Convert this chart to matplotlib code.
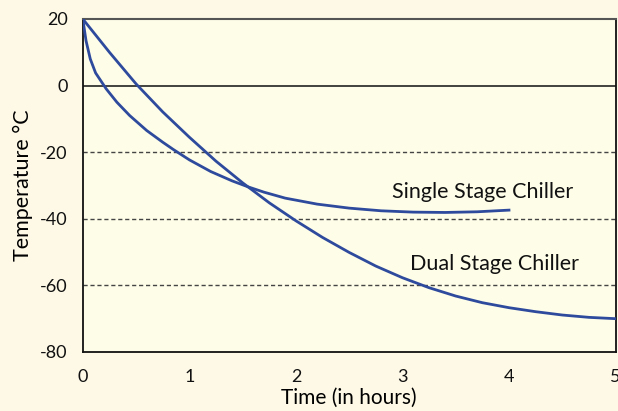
import matplotlib
matplotlib.use("Agg")
import matplotlib.pyplot as plt

plt.rcParams['font.family'] = ['Lato', 'DejaVu Sans']
plt.rcParams['axes.unicode_minus'] = False

# hours / degrees C
single_t = [0, 0.03, 0.07, 0.12, 0.22, 0.32, 0.44, 0.6, 0.75, 0.85, 1.0, 1.2, 1.4,
            1.55, 1.7, 1.9, 2.2, 2.5, 2.8, 3.1, 3.4, 3.7, 4.0]
single_temp = [20, 13.5, 8.0, 3.8, -1.0, -5.0, -9.0, -13.5, -17.0, -19.2, -22.3, -25.8, -28.6,
               -30.4, -32.0, -33.8, -35.6, -36.8, -37.6, -38.0, -38.1, -37.9, -37.4]

dual_t = [0, 0.25, 0.5, 0.75, 1.0, 1.25, 1.5, 1.75, 2.0, 2.25, 2.5, 2.75, 3.0, 3.25,
          3.5, 3.75, 4.0, 4.25, 4.5, 4.75, 5.0]
dual_temp = [20, 10.0, 0.5, -7.9, -15.5, -22.7, -29.2, -35.2, -40.6, -45.6, -50.1, -54.2,
             -57.7, -60.7, -63.2, -65.2, -66.7, -67.9, -68.9, -69.6, -70.0]

labels = ["Single Stage Chiller", "Dual Stage Chiller"]
label_pos = [(3.75, -33.8), (3.86, -55.3)]

line_col = '#2e4a9d'

fig = plt.figure(figsize=(6.18, 4.11), dpi=100, facecolor='#fdf9e6')
ax = fig.add_axes([0.134, 0.1436, 0.862, 0.8102])
ax.set_facecolor('#fefde8')

for y in [-20, -40, -60]:
    ax.axhline(y, color='#444444', lw=1.0, ls=(0, (3, 2)), zorder=1)
ax.axhline(0, color='#222222', lw=1.2, zorder=1)

ax.plot(single_t, single_temp, color=line_col, lw=2.0, zorder=3)
ax.plot(dual_t, dual_temp, color=line_col, lw=2.0, zorder=3)

for txt, (x, y) in zip(labels, label_pos):
    ax.text(x, y, txt, ha='center', va='baseline', fontsize=15.5, color='#111111')

ax.set_xlim(0, 5)
ax.set_ylim(-80, 20)
ax.set_xticks([0, 1, 2, 3, 4, 5])
ax.set_yticks([20, 0, -20, -40, -60, -80])
ax.tick_params(length=0, labelsize=13, colors='#111111')
ax.tick_params(axis='x', pad=12)
ax.tick_params(axis='y', pad=11)

for s in ['left', 'bottom', 'right']:
    ax.spines[s].set_color('#111111')
    ax.spines[s].set_linewidth(1.3)
ax.spines['top'].set_color('#555555')
ax.spines['top'].set_linewidth(1.5)

ax.set_xlabel("Time (in hours)", fontsize=15, labelpad=2)
ax.set_ylabel("Temperature °C", fontsize=15.5, labelpad=5)

fig.savefig("out.png", dpi=100, facecolor=fig.get_facecolor())
